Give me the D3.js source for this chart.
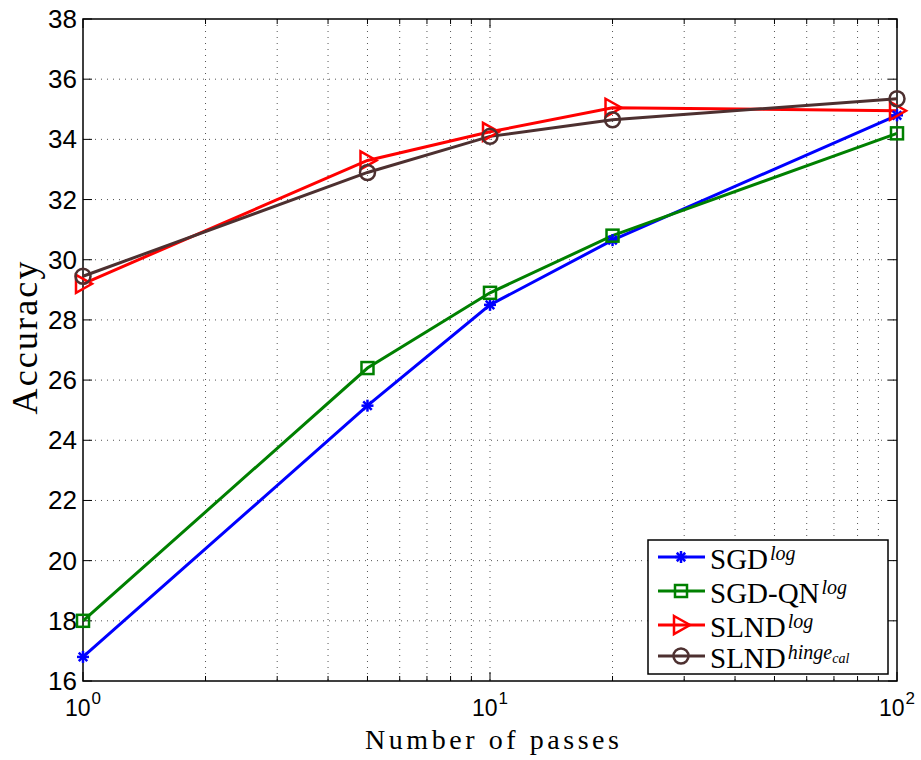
<!DOCTYPE html>
<html><head><meta charset="utf-8">
<script src="https://cdnjs.cloudflare.com/ajax/libs/d3/7.8.5/d3.min.js"></script>
<style>body{margin:0;background:#fff}</style>
</head><body><svg id="c" width="921" height="760"></svg>
<script>
const passes = [1, 5, 10, 20, 100];
const sgdLog = [16.8, 25.15, 28.5, 30.65, 34.8];
const sgdQnLog = [18.0, 26.4, 28.9, 30.8, 34.2];
const slndLog = [29.2, 33.3, 34.25, 35.05, 34.95];
const slndHinge = [29.45, 32.9, 34.1, 34.65, 35.35];
const yTicks = [16, 18, 20, 22, 24, 26, 28, 30, 32, 34, 36, 38];
const xTickExps = [0, 1, 2];
const seriesNames = ["SGD", "SGD-QN", "SLND", "SLND"];
const seriesSups = ["log", "log", "log", "hinge"];

const svg = d3.select("#c");
const L = 83, R = 897, T = 19, B = 681;
const x = d3.scaleLog().domain([1, 100]).range([L, R]);
const y = d3.scaleLinear().domain([16, 38]).range([B, T]);
const tickFont = "'Liberation Sans', Arial, sans-serif";
const serif = "'Liberation Serif', 'DejaVu Serif', serif";

// grid
const minor = [];
for (let d = 1; d <= 10; d *= 10) for (let k = 2; k <= 9; k++) minor.push(d * k);
const gx = svg.append("g");
[...minor, 10].forEach(v => gx.append("line").attr("x1", x(v)).attr("x2", x(v)).attr("y1", T).attr("y2", B)
  .attr("stroke", "#555").attr("stroke-width", 1).attr("stroke-dasharray", "1,5"));
yTicks.slice(1, -1).forEach(v => gx.append("line").attr("x1", L).attr("x2", R).attr("y1", y(v)).attr("y2", y(v))
  .attr("stroke", "#555").attr("stroke-width", 1).attr("stroke-dasharray", "1,5"));

// box
svg.append("rect").attr("x", L).attr("y", T).attr("width", R - L).attr("height", B - T)
  .attr("fill", "none").attr("stroke", "#000").attr("stroke-width", 1.5);

// ticks inward
const tk = svg.append("g").attr("stroke", "#000").attr("stroke-width", 1);
yTicks.forEach(v => {
  tk.append("line").attr("x1", L).attr("x2", L + 9).attr("y1", y(v)).attr("y2", y(v));
  tk.append("line").attr("x1", R).attr("x2", R - 9).attr("y1", y(v)).attr("y2", y(v));
});
[1, 10, 100].forEach(v => {
  tk.append("line").attr("x1", x(v)).attr("x2", x(v)).attr("y1", B).attr("y2", B - 9);
  tk.append("line").attr("x1", x(v)).attr("x2", x(v)).attr("y1", T).attr("y2", T + 9);
});
minor.forEach(v => {
  tk.append("line").attr("x1", x(v)).attr("x2", x(v)).attr("y1", B).attr("y2", B - 5);
  tk.append("line").attr("x1", x(v)).attr("x2", x(v)).attr("y1", T).attr("y2", T + 5);
});

// y tick labels
yTicks.forEach(v => svg.append("text").attr("x", L - 6).attr("y", y(v) + 9)
  .attr("text-anchor", "end").attr("font-family", tickFont).attr("font-size", 26).text(v));
// x tick labels
xTickExps.forEach(e => {
  const t = svg.append("text").attr("x", x(Math.pow(10, e)) - 18).attr("y", 716)
    .attr("font-family", tickFont).attr("font-size", 23);
  t.append("tspan").text("10");
  t.append("tspan").attr("dy", -12).attr("dx", 1).attr("font-size", 17).text(e);
});

// axis titles
svg.append("text").attr("x", 492).attr("y", 749).attr("text-anchor", "middle")
  .attr("font-family", serif).attr("font-size", 28).attr("textLength", 254).attr("lengthAdjust", "spacing")
  .text("Number of passes");
svg.append("text").attr("transform", "translate(37,338) rotate(-90)").attr("text-anchor", "middle")
  .attr("font-family", serif).attr("font-size", 36).attr("textLength", 153).attr("lengthAdjust", "spacing")
  .text("Accuracy");

const series = [
  { vals: sgdLog, color: "#0000ff", marker: "star" },
  { vals: sgdQnLog, color: "#008000", marker: "square" },
  { vals: slndLog, color: "#ff0000", marker: "tri" },
  { vals: slndHinge, color: "#4d3030", marker: "circle" }
];

function drawMarker(g, type, cx, cy, color) {
  if (type === "star") {
    for (let a = 0; a < 4; a++) {
      const ang = a * Math.PI / 4, r = 6;
      g.append("line").attr("x1", cx - r * Math.cos(ang)).attr("y1", cy - r * Math.sin(ang))
        .attr("x2", cx + r * Math.cos(ang)).attr("y2", cy + r * Math.sin(ang))
        .attr("stroke", color).attr("stroke-width", 2.5);
    }
  } else if (type === "square") {
    g.append("rect").attr("x", cx - 6).attr("y", cy - 6).attr("width", 12).attr("height", 12)
      .attr("fill", "none").attr("stroke", color).attr("stroke-width", 2.5);
  } else if (type === "tri") {
    g.append("path").attr("d", `M${cx - 7},${cy - 9}L${cx + 9},${cy}L${cx - 7},${cy + 9}Z`)
      .attr("fill", "none").attr("stroke", color).attr("stroke-width", 2.5);
  } else {
    g.append("circle").attr("cx", cx).attr("cy", cy).attr("r", 7.5)
      .attr("fill", "none").attr("stroke", color).attr("stroke-width", 2.5);
  }
}

const line = d3.line().x((d, i) => x(passes[i])).y(d => y(d));
series.forEach(s => {
  svg.append("path").attr("d", line(s.vals)).attr("fill", "none").attr("stroke", s.color).attr("stroke-width", 3);
});
series.forEach(s => {
  const g = svg.append("g");
  s.vals.forEach((v, i) => drawMarker(g, s.marker, x(passes[i]), y(v), s.color));
});

// legend
const lg = svg.append("g");
lg.append("rect").attr("x", 648).attr("y", 540).attr("width", 240).attr("height", 134)
  .attr("fill", "#fff").attr("stroke", "#000").attr("stroke-width", 1.5);
const rowY = [557, 591, 625, 656];
series.forEach((s, i) => {
  lg.append("line").attr("x1", 658).attr("x2", 705).attr("y1", rowY[i]).attr("y2", rowY[i])
    .attr("stroke", s.color).attr("stroke-width", 3);
  drawMarker(lg, s.marker, 681, rowY[i], s.color);
  const t = lg.append("text").attr("x", 710).attr("y", rowY[i] + 12)
    .attr("font-family", serif).attr("font-size", 29);
  t.append("tspan").text(seriesNames[i]);
  t.append("tspan").attr("dy", -9).attr("dx", 2).attr("font-size", 20).attr("font-style", "italic").text(seriesSups[i]);
  if (i === 3) t.append("tspan").attr("dy", 4).attr("font-size", 14).attr("font-style", "italic").text("cal");
});
</script></body></html>
